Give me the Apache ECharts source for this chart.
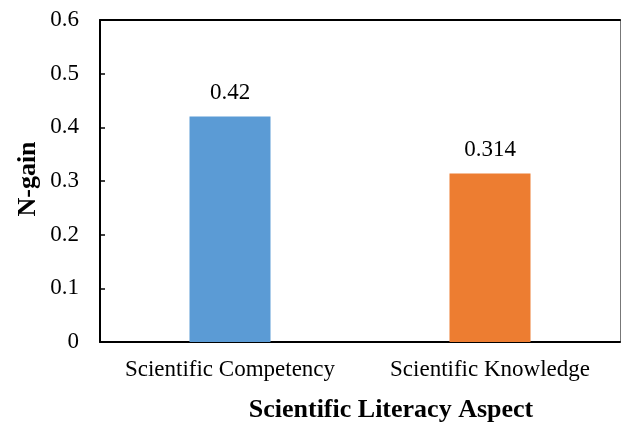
<!DOCTYPE html>
<html>
<head>
<meta charset="utf-8">
<script src="https://cdn.jsdelivr.net/npm/echarts@6/dist/echarts.min.js"></script>
<style>
  html, body { margin: 0; padding: 0; background: #fff; }
  #chart { width: 621px; height: 426px; }
</style>
</head>
<body>
<div id="chart"></div>
<script>
// Scientific literacy N-gain by aspect
const categories = ['Scientific Competency', 'Scientific Knowledge'];
const nGain = [0.42, 0.314];
const barColors = ['#5b9bd5', '#ed7d31'];
const yTicks = [0, 0.1, 0.2, 0.3, 0.4, 0.5, 0.6];

const FONT = '"Liberation Serif", "Times New Roman", serif';

const chart = echarts.init(document.getElementById('chart'));
chart.setOption({
  animation: false,
  backgroundColor: '#fff',
  grid: { left: 100, right: 1, top: 20, bottom: 84 },
  xAxis: [{
    type: 'category',
    data: categories,
    axisLine: { onZero: false, lineStyle: { color: '#000', width: 2 } },
    axisTick: { show: false },
    axisLabel: { interval: 0, color: '#000', fontFamily: FONT, fontSize: 23, margin: 16 }
  }, {
    type: 'category',
    position: 'top',
    data: categories,
    axisLine: { onZero: false, lineStyle: { color: '#000', width: 2 } },
    axisTick: { show: false },
    axisLabel: { show: false }
  }],
  yAxis: [{
    type: 'value',
    min: yTicks[0],
    max: yTicks[yTicks.length - 1],
    interval: 0.1,
    axisLine: { show: true, lineStyle: { color: '#000', width: 2 } },
    axisTick: { show: true, inside: true, length: 5, lineStyle: { color: '#000', width: 1.5 } },
    splitLine: { show: false },
    axisLabel: {
      color: '#000', fontFamily: FONT, fontSize: 23, margin: 21,
      formatter: v => String(Math.round(v * 10) / 10)
    }
  }, {
    type: 'value',
    position: 'right',
    min: yTicks[0],
    max: yTicks[yTicks.length - 1],
    interval: 0.1,
    axisLine: { show: true, lineStyle: { color: '#777', width: 1 } },
    axisTick: { show: false },
    axisLabel: { show: false },
    splitLine: { show: false }
  }],
  series: [{
    type: 'bar',
    barWidth: 81,
    data: nGain.map((v, i) => ({ value: v, itemStyle: { color: barColors[i] } })),
    label: {
      show: true,
      position: 'top',
      distance: 12,
      color: '#000',
      fontFamily: FONT,
      fontSize: 23,
      formatter: p => String(p.value)
    }
  }],
  graphic: [{
    type: 'text',
    x: 391,
    y: 410,
    style: {
      text: 'Scientific Literacy Aspect',
      font: 'bold 26px ' + FONT,
      fill: '#000',
      align: 'center',
      verticalAlign: 'middle'
    }
  }, {
    type: 'text',
    x: 28,
    y: 179,
    rotation: Math.PI / 2,
    style: {
      text: 'N-gain',
      font: 'bold 26px ' + FONT,
      fill: '#000',
      align: 'center',
      verticalAlign: 'middle'
    }
  }]
});
</script>
</body>
</html>
